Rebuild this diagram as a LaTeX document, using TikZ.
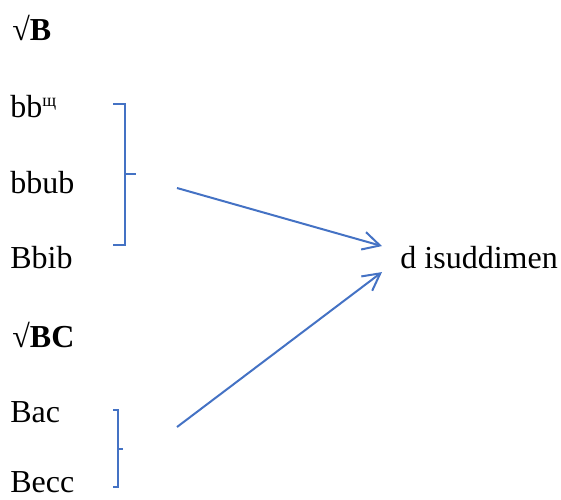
\documentclass[tikz,border=0pt]{standalone}
\usepackage{fontspec}
\setmainfont{Liberation Serif}
\usetikzlibrary{arrows.meta}
\definecolor{wordblue}{HTML}{4472C4}
\begin{document}
\begin{tikzpicture}[x=0.5pt,y=-0.5pt,
  word/.style={anchor=base west,inner sep=0pt,font=\fontsize{16}{19}\selectfont},
  brace/.style={wordblue,line width=1.1pt},
  arr/.style={wordblue,line width=1pt,-{Straight Barb[length=8.5pt,width=9pt]}}]
\useasboundingbox (0,0) rectangle (561,499);
% Parameters
\def\colX{10}

% Root B
\node[word] (rootB) at (12,40) {√\textbf{B}};
\node[word] (wordA) at (\colX,117) {bb\raisebox{5.5pt}{\fontsize{9}{9}\selectfont щ}};
\node[word] (wordB) at (\colX,193) {bbub};
\node[word] (wordC) at (\colX,268) {Bbib};

% Root BC
\node[word] (rootBC) at (12,347) {√\textbf{BC}};
\node[word] (wordD) at (\colX,422) {Bac};
\node[word] (wordE) at (\colX,492) {Becc};

% Result
\node[word] (target) at (400,268) {d isuddimen};

% Braces
\draw[brace] (113,104) -- (125,104) -- (125,245) -- (113,245);
\draw[brace] (125,174) -- (136,174);
\draw[brace] (113,410) -- (118,410) -- (118,487) -- (113,487);
\draw[brace] (118,449) -- (123,449);

% Arrows
\coordinate (fromB) at (177,188);
\coordinate (fromBC) at (177,427);
\draw[arr] (fromB) -- ([shift={(-18,-11)}]target.west);
\draw[arr] (fromBC) -- ([shift={(-18,15)}]target.west);
\end{tikzpicture}
\end{document}
